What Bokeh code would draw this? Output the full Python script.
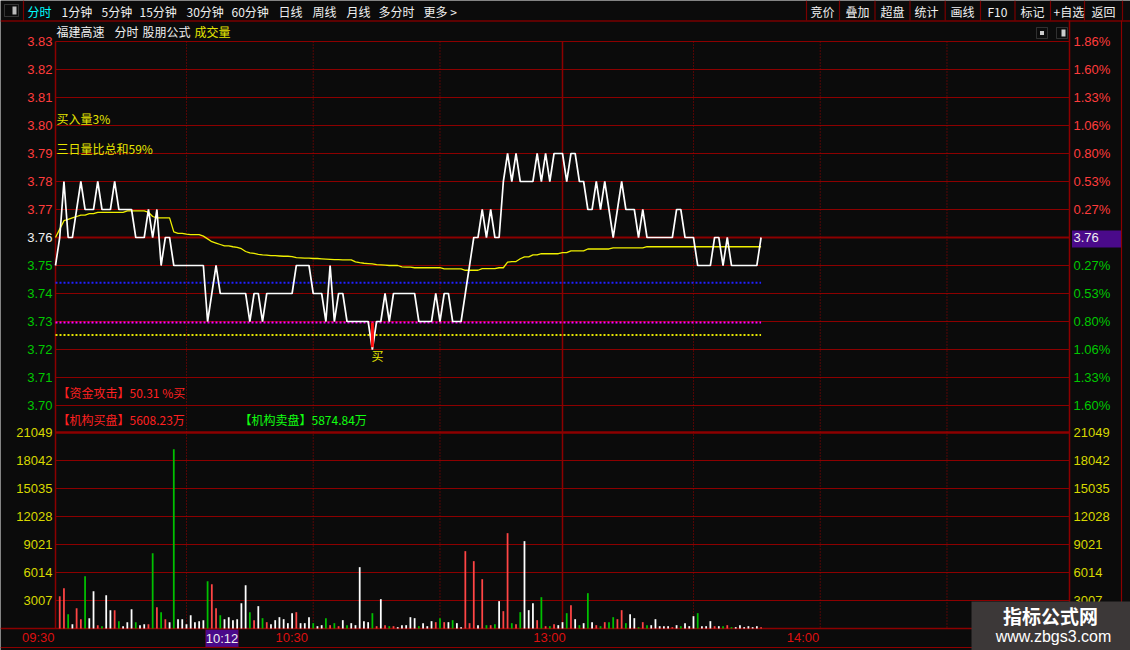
from bokeh.plotting import figure
from bokeh.models import Range1d, Label, ColumnDataSource, BoxAnnotation
from bokeh.core.properties import value
from bokeh.embed import file_html
from bokeh.resources import INLINE

# ---------------- data ----------------
prev_close = 3.76

# minute price (index 0 = 09:30), white line
price = [3.75, 3.76, 3.78, 3.76, 3.76, 3.77, 3.78, 3.77, 3.77, 3.77,
         3.78, 3.77, 3.77, 3.77, 3.78, 3.77, 3.77, 3.77, 3.77, 3.76,
         3.76, 3.76, 3.77, 3.76, 3.77, 3.75, 3.76, 3.76, 3.75, 3.75,
         3.75, 3.75, 3.75, 3.75, 3.75, 3.75, 3.73, 3.74, 3.75, 3.74,
         3.74, 3.74, 3.74, 3.74, 3.74, 3.74, 3.73, 3.74, 3.74, 3.73,
         3.74, 3.74, 3.74, 3.74, 3.74, 3.74, 3.74, 3.75, 3.75, 3.75,
         3.75, 3.74, 3.74, 3.74, 3.73, 3.75, 3.73, 3.74, 3.74, 3.73,
         3.73, 3.73, 3.73, 3.73, 3.73, 3.72, 3.73, 3.73, 3.74, 3.73,
         3.74, 3.74, 3.74, 3.74, 3.74, 3.74, 3.73, 3.73, 3.73, 3.73,
         3.74, 3.73, 3.74, 3.74, 3.73, 3.73, 3.73, 3.74, 3.75, 3.76,
         3.76, 3.77, 3.76, 3.77, 3.76, 3.76, 3.78, 3.79, 3.78, 3.79,
         3.78, 3.78, 3.78, 3.78, 3.79, 3.78, 3.79, 3.78, 3.79, 3.79,
         3.79, 3.78, 3.79, 3.79, 3.78, 3.78, 3.77, 3.77, 3.78, 3.77,
         3.78, 3.77, 3.76, 3.77, 3.78, 3.77, 3.77, 3.77, 3.76, 3.77,
         3.76, 3.76, 3.76, 3.76, 3.76, 3.76, 3.76, 3.77, 3.77, 3.76,
         3.76, 3.76, 3.75, 3.75, 3.75, 3.75, 3.76, 3.76, 3.75, 3.76,
         3.75, 3.75, 3.75, 3.75, 3.75, 3.75, 3.75, 3.76]

# average price, yellow line
avg_price = [3.760, 3.763, 3.766, 3.7665, 3.767, 3.7675, 3.768, 3.768, 3.7685, 3.7685,
             3.769, 3.769, 3.769, 3.769, 3.769, 3.769, 3.769, 3.7695, 3.7695, 3.7695,
             3.7695, 3.7695, 3.769, 3.7675, 3.767, 3.767, 3.767, 3.767, 3.762, 3.7615,
             3.7615, 3.7612, 3.761, 3.761, 3.761, 3.7605, 3.7595, 3.7585, 3.758, 3.7575,
             3.757, 3.757, 3.7567, 3.7565, 3.756, 3.755, 3.7545, 3.7543, 3.754, 3.7538,
             3.7537, 3.7535, 3.7535, 3.7534, 3.7533, 3.7533, 3.7532, 3.7528, 3.7527, 3.7526,
             3.7526, 3.7525, 3.7525, 3.7524, 3.7523, 3.7522, 3.7521, 3.7521, 3.752, 3.752,
             3.752, 3.7513, 3.751, 3.7508, 3.7507, 3.7506, 3.7503, 3.7502, 3.7501, 3.75,
             3.75, 3.75, 3.7495, 3.7494, 3.7494, 3.7492, 3.7492, 3.7492, 3.7492, 3.7492,
             3.7492, 3.7492, 3.7488, 3.7488, 3.7488, 3.7488, 3.7488, 3.7483, 3.7483, 3.7483,
             3.7483, 3.7489, 3.7489, 3.7489, 3.7489, 3.7492, 3.7492, 3.7512, 3.7514, 3.7514,
             3.7524, 3.7531, 3.7531, 3.7538, 3.7538, 3.7542, 3.7542, 3.7542, 3.7542, 3.7542,
             3.7546, 3.7546, 3.7552, 3.7552, 3.7552, 3.7552, 3.7559, 3.7559, 3.7559, 3.7559,
             3.7559, 3.7559, 3.7563, 3.7563, 3.7563, 3.7563, 3.7563, 3.7563, 3.7563, 3.7563,
             3.7567, 3.7567, 3.7567, 3.7567, 3.7567, 3.7567, 3.7567, 3.7567, 3.7567, 3.7567,
             3.7567, 3.7567, 3.7567, 3.7567, 3.7567, 3.7567, 3.7567, 3.7567, 3.7567, 3.7567,
             3.7567, 3.7567, 3.7567, 3.7567, 3.7567, 3.7567, 3.7567, 3.7567]

# volume per minute, starting at minute 1 (09:31)
volume = [3473, 4332, 1539, 465, 2184, 1002, 5621, 1110, 4010, 358,
          250, 3580, 1969, 1969, 788, 250, 680, 2076, 680, 358,
          465, 465, 8091, 2291, 1754, 1002, 680, 19260, 1002, 1002,
          465, 1432, 680, 788, 895, 5084, 4761, 2184, 1432, 1002,
          1217, 895, 1002, 2721, 4654, 1754, 895, 2399, 1110, 680,
          465, 895, 1217, 1002, 573, 1647, 1754, 573, 573, 1217,
          573, 250, 358, 1110, 358, 573, 250, 895, 358, 573,
          358, 6587, 788, 680, 1647, 250, 3150, 358, 250, 250,
          143, 358, 358, 1217, 1110, 250, 573, 250, 788, 680,
          1110, 680, 680, 895, 573, 143, 8306, 573, 7232, 358,
          5298, 358, 358, 465, 2936, 1862, 10239, 573, 465, 1754,
          9380, 1969, 2721, 895, 3365, 250, 250, 465, 358, 680,
          1647, 2506, 1002, 358, 573, 3795, 680, 358, 250, 680,
          680, 1217, 1002, 1969, 573, 1539, 1110, 143, 680, 358,
          358, 1002, 250, 250, 250, 143, 358, 250, 573, 250,
          1325, 1647, 250, 250, 788, 250, 250, 250, 358, 143,
          143, 358, 143, 250, 143, 250, 143]
# bar kind per minute: r = up tick, g = down tick, w = unchanged
volume_kind = list(
    "rrgwrrgwwr" "gwwrgwwwgw" "wrgrgrwgww" "wwwwwgrrgw" "wwwwwgrwgr"
    "wwwwwwrwww" "gwwgrgrwgw" "wwwwgrwrgr" "wwwwwgwwwr" "grwgwwrrrw"
    "rgrgwrrgrg" "wwwrgrgrww" "grwgwgwrgr" "ggrrgwwgrg" "wwwwwrwgww"
    "wgwwwrwgrg" "wwwwwwr")

price_ticks = [3.83, 3.82, 3.81, 3.80, 3.79, 3.78, 3.77, 3.76, 3.75, 3.74, 3.73, 3.72, 3.71, 3.70]
vol_ticks = [3007, 6014, 9021, 12028, 15035, 18042, 21049]
time_ticks = [0, 60, 121, 181]
time_labels = ["09:30", "10:30", "13:00", "14:00"]
half_hour_marks = [31, 61, 91, 151, 181, 211]
noon_mark = 120
session_minutes = 240

ref_levels = [3.7438, 3.7296, 3.7252]          # blue, magenta, yellow dotted lines
buy_minute = [75]
buy_top = [3.7296]
buy_low = [3.7208]
cursor_label = "10:12"

toolbar_left = ["分时", "1分钟", "5分钟", "15分钟", "30分钟", "60分钟", "日线", "周线", "月线", "多分时", "更多 >"]
toolbar_right = ["竞价", "叠加", "超盘", "统计", "画线", "F10", "标记", "+自选", "返回"]
header_items = ["福建高速", "分时", "股朋公式", "成交量"]
note_buy_ratio = "买入量3%"
note_three_day = "三日量比总和59%"
note_attack = "【资金攻击】50.31 %买"
note_inst_buy = "【机构买盘】5608.23万"
note_inst_sell = "【机构卖盘】5874.84万"

# ---------------- styles / layout ----------------
W, H = 1130, 650
BG = "#0b0b0b"
GRID = "#8c0000"
RED_T = "#ff3c3c"
GREEN_T = "#00c800"
YEL = "#e6e600"
WHITE = "#f0f0f0"
PURPLE = "#4a0a8a"
CJK = "Noto Sans CJK SC"
NUM = "Liberation Sans"
KIND_COLORS = {"r": "#ff4545", "g": "#00c000", "w": "#ffffff"}

PLOT_LEFT, PLOT_RIGHT, PLOT_TOP = 55, 1069, 41   # chart area in page pixels
VOL_BASE_Y = 628                                  # page pixel of volume zero
PX_PER_PRICE = 2800.0                             # 28 px per 0.01
PX_PER_VOLSTEP = 28.0                             # 28 px per 3007

price_top = price_ticks[0]
px_per_min = (PLOT_RIGHT - PLOT_LEFT) / session_minutes


def dx(X):
    return (X - PLOT_LEFT) / px_per_min


def dy(Y):
    return price_top - (Y - PLOT_TOP) / PX_PER_PRICE


def dv(Y):
    return (VOL_BASE_Y - Y) * vol_ticks[0] / PX_PER_VOLSTEP


chart_floor = dy(VOL_BASE_Y)

p = figure(width=W, height=H, x_range=Range1d(dx(0), dx(W)), y_range=Range1d(dy(H), dy(0)),
           output_backend="svg", toolbar_location=None, x_axis_location=None,
           y_axis_location=None, min_border=0, background_fill_color=BG,
           border_fill_color=BG, outline_line_color=None)
p.extra_y_ranges = {"vol": Range1d(dv(H), dv(0))}
p.grid.visible = False
for g in p.grid:
    g.grid_line_color = None


def add_box(X0, X1, Y0, Y1, color, level="underlay", line=None):
    p.add_layout(BoxAnnotation(left=dx(X0), right=dx(X1), top=dy(Y0), bottom=dy(Y1),
                               fill_color=color, fill_alpha=1 if color else 0,
                               line_color=line, line_width=1, level=level))


def add_text(text, X, Y, color, size="12px", font=CJK, align="left", style="normal", level="annotation"):
    p.add_layout(Label(x=dx(X), y=dy(Y), text=text, text_color=color, text_font=font,
                       text_font_size=size, text_align=align, text_baseline="middle",
                       text_font_style=style, level=level))


# ---- grid lines ----
p.segment(x0=0, x1=session_minutes, y0=price_ticks, y1=price_ticks, line_color=GRID, line_width=1)
p.segment(x0=0, x1=session_minutes, y0=[prev_close], y1=[prev_close], line_color=GRID, line_width=2)
p.segment(x0=0, x1=session_minutes, y0=vol_ticks, y1=vol_ticks, line_color=GRID, line_width=1,
          y_range_name="vol")
p.segment(x0=0, x1=session_minutes, y0=[vol_ticks[-1]], y1=[vol_ticks[-1]], line_color=GRID,
          line_width=2.5, y_range_name="vol")
p.segment(x0=half_hour_marks, x1=half_hour_marks, y0=price_top, y1=chart_floor,
          line_color="#a00000", line_width=1, line_dash="1 2")
p.segment(x0=[noon_mark], x1=[noon_mark], y0=price_top, y1=chart_floor, line_color=GRID, line_width=1.5)
# frame lines
p.segment(x0=[0], x1=[0], y0=price_top, y1=chart_floor, line_color=GRID, line_width=1.5)
p.segment(x0=[session_minutes], x1=[session_minutes], y0=dy(20), y1=chart_floor,
          line_color=GRID, line_width=1.5)
p.segment(x0=[dx(0)], x1=[dx(1121)], y0=[chart_floor], y1=[chart_floor], line_color=GRID, line_width=1.5)
p.segment(x0=[dx(0)], x1=[dx(W)], y0=[dy(647)], y1=[dy(647)], line_color=GRID, line_width=1.2)
p.segment(x0=[dx(1121)], x1=[dx(1121)], y0=dy(20), y1=dy(H), line_color=GRID, line_width=1.2)

# ---- axis labels ----
level_colors = [RED_T if v > prev_close + 1e-9 else (WHITE if abs(v - prev_close) < 1e-9 else GREEN_T)
                for v in price_ticks]
left_src = ColumnDataSource(dict(y=price_ticks, text=[f"{v:.2f}" for v in price_ticks],
                                 color=level_colors))
p.text(x=dx(52), y="y", text="text", source=left_src, text_align="right", text_baseline="middle",
       text_color="color", text_font=value(NUM), text_font_size="13px")

add_box(1071.5, 1120.5, 230, 247, PURPLE)
right_text = [f"{abs(v - prev_close) / prev_close * 100:.2f}%" if abs(v - prev_close) > 1e-9
              else f"{v:.2f}" for v in price_ticks]
right_src = ColumnDataSource(dict(y=price_ticks, text=right_text, color=level_colors))
p.text(x=dx(1073), y="y", text="text", source=right_src, text_align="left", text_baseline="middle",
       text_color="color", text_font=value(NUM), text_font_size="13px")

vol_text = [str(v) for v in vol_ticks]
p.text(x=dx(52), y=vol_ticks, text=vol_text, text_align="right", text_baseline="middle",
       text_color="#d8d800", text_font=value(NUM), text_font_size="13px", y_range_name="vol")
p.text(x=dx(1073), y=vol_ticks, text=vol_text, text_align="left", text_baseline="middle",
       text_color="#d8d800", text_font=value(NUM), text_font_size="13px", y_range_name="vol")

p.text(x=time_ticks, y=dy(636.5), text=time_labels, text_align="right", text_baseline="middle",
       text_color="#dd1010", text_font=value(NUM), text_font_size="13px", x_offset=-1)

# ---- volume bars ----
vol_minutes = list(range(1, len(volume) + 1))
vsrc = ColumnDataSource(dict(x=vol_minutes, top=volume,
                             color=[KIND_COLORS[k] for k in volume_kind]))
p.vbar(x="x", top="top", bottom=0, width=0.42, source=vsrc, fill_color="color",
       line_color=None, y_range_name="vol")

# ---- reference dotted levels ----
minutes = list(range(len(price)))
for lvl, col in zip(ref_levels, ["#2020ff", "#ff00ff", "#e6e600"]):
    p.line([minutes[0], minutes[-1]], [lvl, lvl], line_color=col, line_width=2, line_dash="2 2")

# ---- average and price lines ----
p.line(minutes, avg_price, line_color="#f0f000", line_width=1.3)
p.line(minutes, price, line_color="#ffffff", line_width=1.7)

# ---- buy signal ----
p.segment(x0=buy_minute, x1=buy_minute, y0=buy_low, y1=buy_top, line_color="#ff1010", line_width=3)
p.text(x=buy_minute, y=buy_low, text=["买"], text_color=YEL, text_font=value(CJK),
       text_font_size="12px", text_align="left", text_baseline="middle", y_offset=8, x_offset=-1)

# ---- notes inside the price panel ----
add_text(note_buy_ratio, 56, 118, YEL)
add_text(note_three_day, 56, 148, YEL)
add_text(note_attack, 57, 392, "#ff2020")
add_text(note_inst_buy, 57, 419, "#ff2020")
add_text(note_inst_sell, 239, 419, "#10ff10")

# ---- header line ----
for txt, X, col in zip(header_items, [56, 114, 142, 194], [WHITE, WHITE, WHITE, YEL]):
    add_text(txt, X, 31, col)
add_box(1036, 1047, 27, 38, None, line="#888888")
add_box(1039.5, 1043.5, 30.5, 34.5, "#cccccc")
add_box(1056, 1067, 27, 38, None, line="#888888")
add_box(1061, 1065, 29, 36, "#cccccc")

# ---- toolbar ----
add_box(4, 18, 4, 16, None, line="#999999")
add_box(12, 16, 6, 14, "#bbbbbb")
for txt, X in zip(toolbar_left, [27, 61, 101, 139, 186, 231, 278, 312, 346, 378, 423]):
    add_text(txt, X, 10.5, "#00ffff" if txt == "分时" else WHITE)
for txt, X in zip(toolbar_right, [810, 845, 880, 914, 950, 987, 1020, 1053, 1091]):
    add_text(txt, X, 10.5, WHITE)
add_box(0, W, 19.8, 21.2, "#7a0000")
for X in [23, 806, 839, 874.5, 909.5, 944.7, 980, 1014.5, 1050, 1084, 1122]:
    add_box(X - 0.6, X + 0.6, 0, 20, "#7a0000")

# ---- cursor time label ----
add_box(205, 238, 629, 646.5, PURPLE, line=GRID)
add_text(cursor_label, 221.5, 637.5, WHITE, size="13px", font=NUM, align="center")

# ---- watermark ----
add_box(971, W, 601, H, "#3c3838", level="overlay")
add_text("指标公式网", 1050, 615, "#ffffff", size="19px", align="center", style="bold", level="overlay")
add_text("www.zbgs3.com", 1053, 636, "#ffffff", size="16px", font=NUM, align="center", level="overlay")

open("out.html", "w").write(file_html(p, INLINE))
